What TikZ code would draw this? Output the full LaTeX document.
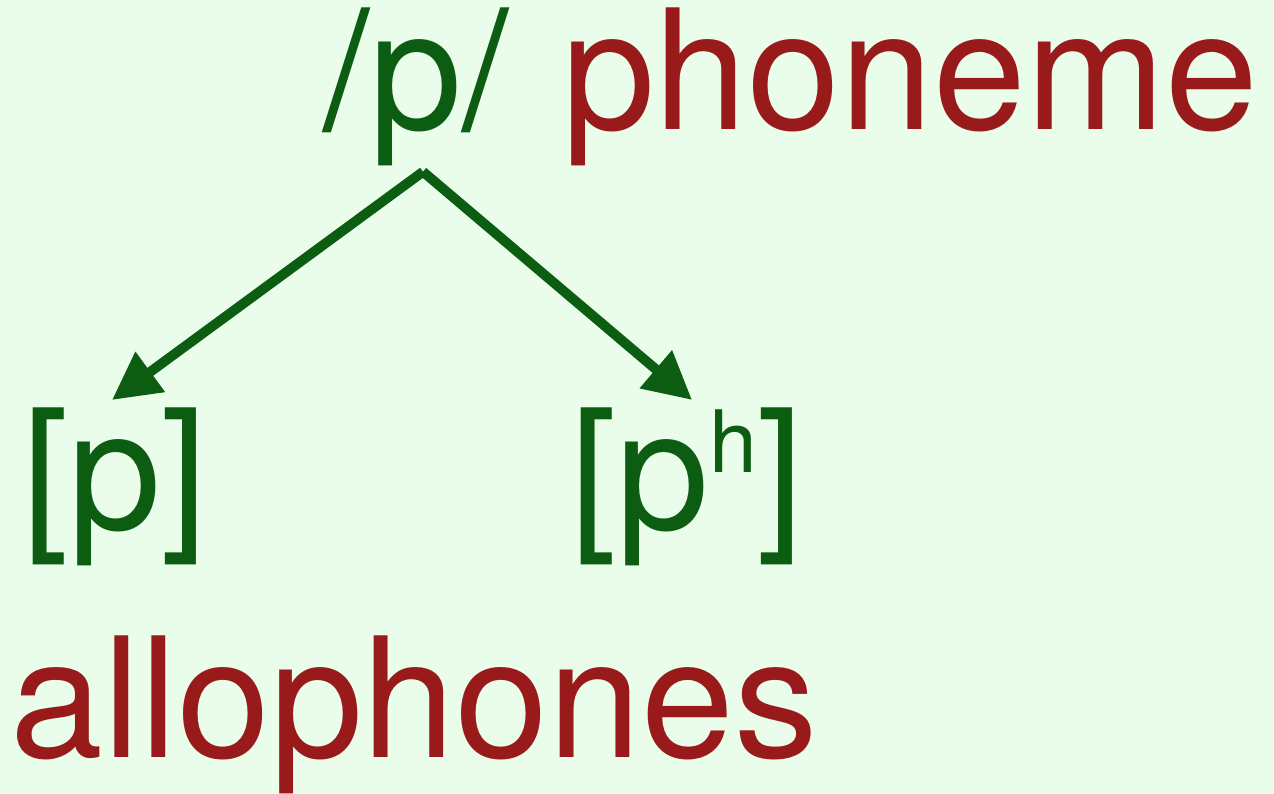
\documentclass[tikz,border=0pt]{standalone}
\usepackage{fontspec}
\setmainfont{TeX Gyre Heros}
\usetikzlibrary{arrows.meta}
\definecolor{phongreen}{RGB}{12,92,18}
\definecolor{labelred}{RGB}{152,26,26}
\definecolor{paper}{RGB}{234,253,234}
\begin{document}
\begin{tikzpicture}[
		big/.style={inner sep=0pt, anchor=base, font=\fontsize{95}{100}\selectfont},
		sym/.style={big, text=phongreen},
		lbl/.style={big, text=labelred},
		arr/.style={draw=phongreen, line width=5.6pt, -{Triangle[length=0.95cm, width=0.95cm]}}
	]
		% Draw the background
		\fill[paper] (0,0) rectangle (25.48,15.88);
		\useasboundingbox (0,0) rectangle (25.48,15.88);

		\node[sym] (phon) at (8.32, 13.28) {/p/};
		\node[lbl] (phoneme) at (18.2, 13.28) {phoneme};

		\node[sym] (plain) at (2.3, 5.28) {[p]};
		\node[sym] (aspir) at (13.74, 5.28) {[p\raisebox{33pt}{\fontsize{49}{49}\selectfont h}]};

		\node[lbl] (allo) at (8.28, 0.72) {allophones};

		% Draw the arrows from the phoneme to its allophones
		\coordinate (fork) at ([xshift=0.14cm, yshift=-0.1cm]phon.south);
		\draw[arr] (fork) -- ([xshift=-0.06cm, yshift=0.16cm]plain.north);
		\draw[arr] (fork) -- ([xshift=0.1cm, yshift=0.16cm]aspir.north);

	\end{tikzpicture}
\end{document}
